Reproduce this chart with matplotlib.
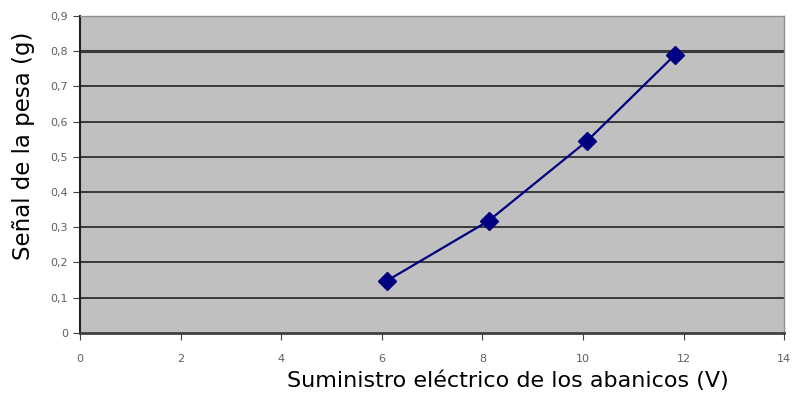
import matplotlib
matplotlib.use("Agg")
import matplotlib.pyplot as plt

voltaje = [6.1, 8.12, 10.08, 11.83]
senal = [0.148, 0.318, 0.545, 0.79]
xticks = [0, 2, 4, 6, 8, 10, 12, 14]
yticks = [0, 0.1, 0.2, 0.3, 0.4, 0.5, 0.6, 0.7, 0.8, 0.9]
ylabels = ["0", "0,1", "0,2", "0,3", "0,4", "0,5", "0,6", "0,7", "0,8", "0,9"]

fig = plt.figure(figsize=(7.95, 4.07), dpi=100)
ax = fig.add_axes([0.1006, 0.182, 0.886, 0.779])
ax.set_facecolor("#c0c0c0")

# horizontal grid lines
for y in yticks[1:-1]:
    ax.axhline(y, color="#3a3a3a", lw=2.2 if y == 0.8 else 1.4, zorder=1)

ax.plot(voltaje, senal, color="#000080", lw=1.6, marker="D", ms=9,
        markerfacecolor="#000080", markeredgecolor="#000080", zorder=3)

ax.set_xlim(0, 14)
ax.set_ylim(0, 0.9)
ax.set_xticks(xticks)
ax.set_xticklabels([str(t) for t in xticks])
ax.set_yticks(yticks)
ax.set_yticklabels(ylabels)
ax.tick_params(axis="both", labelsize=8, labelcolor="#606060", color="#404040",
               direction="out", length=5)
ax.tick_params(axis="x", pad=10)

for side in ["top", "right"]:
    ax.spines[side].set_color("#909090")
    ax.spines[side].set_linewidth(1)
ax.spines["left"].set_color("#202020")
ax.spines["left"].set_linewidth(1.5)
ax.spines["bottom"].set_color("#404040")
ax.spines["bottom"].set_linewidth(2)

ax.set_xlabel("Suministro eléctrico de los abanicos (V)", fontsize=16)
ax.set_ylabel("Señal de la pesa (g)", fontsize=16.5)
ax.xaxis.set_label_coords(0.608, -0.12)
ax.yaxis.set_label_coords(-0.064, 0.59)

fig.savefig("out.png", dpi=100)
